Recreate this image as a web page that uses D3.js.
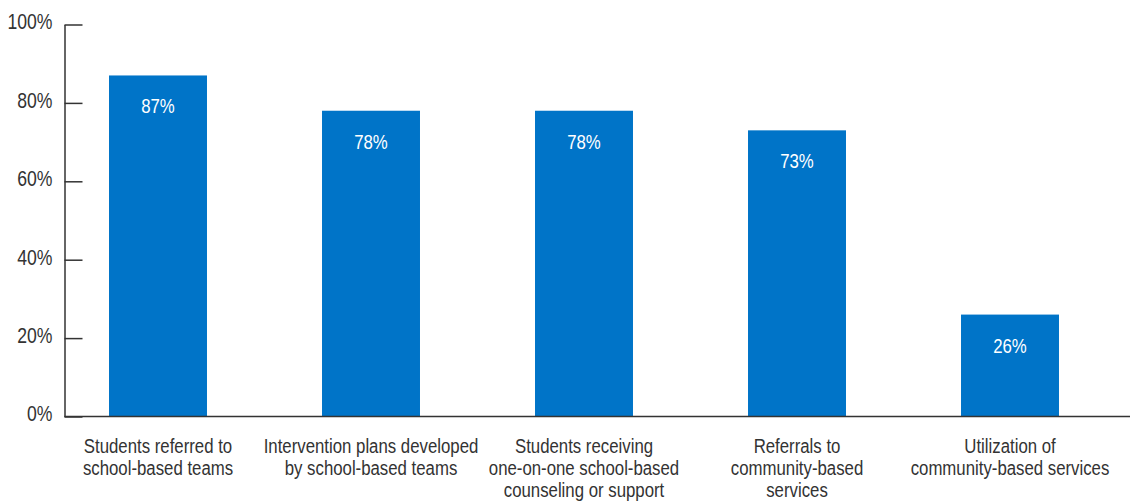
<!DOCTYPE html>
<html>
<head>
<meta charset="utf-8">
<script src="https://cdn.jsdelivr.net/npm/d3@7"></script>
<style>
  html, body { margin: 0; padding: 0; background: #fff; }
  svg { display: block; }
  text { font-family: "Liberation Sans", Arial, sans-serif; }
</style>
</head>
<body>
<svg id="chart" width="1130" height="502"></svg>
<script>
// Share of cases reaching each stage of the school-based support process
const categories = [
  ["Students referred to", "school-based teams"],
  ["Intervention plans developed", "by school-based teams"],
  ["Students receiving", "one-on-one school-based", "counseling or support"],
  ["Referrals to", "community-based", "services"],
  ["Utilization of", "community-based services"]
];
const values = [87, 78, 78, 73, 26];
const yTicks = [0, 20, 40, 60, 80, 100];

const svg = d3.select("#chart");
const axisX = 64.5;
const y0 = 416.5, y1 = 24.5;
const textColor = "#333";
const barColor = "#0074c8";
const fontSize = "21px";
const squeeze = 0.8;   // horizontal compression for a condensed look

const x = d3.scaleBand()
  .domain(d3.range(categories.length))
  .range([51.5, 1116.5])
  .paddingInner(0.54)
  .paddingOuter(0.27);

const y = d3.scaleLinear().domain([0, 100]).range([y0, y1]);

// bars
svg.append("g").selectAll("rect")
  .data(values)
  .join("rect")
  .attr("x", (d, i) => x(i))
  .attr("y", d => y(d))
  .attr("width", x.bandwidth())
  .attr("height", d => y0 - y(d))
  .attr("fill", barColor);

// value labels inside the top of each bar
svg.append("g").selectAll("text")
  .data(values)
  .join("text")
  .attr("transform", (d, i) => `translate(${x(i) + x.bandwidth() / 2},${y(d) + 38}) scale(${squeeze},1)`)
  .attr("text-anchor", "middle")
  .attr("fill", "#fff")
  .style("font-size", fontSize)
  .text(d => d + "%");

// y axis with inward ticks
const yAxis = d3.axisLeft(y)
  .tickValues(yTicks)
  .tickFormat(d => d + "%")
  .tickSizeInner(-18)
  .tickSizeOuter(0)
  .tickPadding(12);

const gy = svg.append("g")
  .attr("transform", `translate(${axisX},0)`)
  .call(yAxis);
gy.select(".domain").attr("stroke", textColor).attr("stroke-width", 1.5);
gy.selectAll(".tick line").attr("stroke", textColor).attr("stroke-width", 1.5);
gy.selectAll(".tick text")
  .attr("x", -12 / squeeze)
  .attr("dy", "4.3px")
  .attr("transform", `scale(${squeeze},1)`)
  .attr("fill", textColor)
  .style("font-size", "22px")
  .style("font-family", "'Liberation Sans', Arial, sans-serif");

// baseline
svg.append("line")
  .attr("x1", axisX).attr("x2", 1130)
  .attr("y1", y0).attr("y2", y0)
  .attr("stroke", textColor)
  .attr("stroke-width", 1.5);

// category labels
const cat = svg.append("g").selectAll("text")
  .data(categories)
  .join("text")
  .attr("transform", (d, i) => `translate(${x(i) + x.bandwidth() / 2},452.5) scale(${squeeze},1)`)
  .attr("text-anchor", "middle")
  .attr("fill", textColor)
  .style("font-size", fontSize);
cat.selectAll("tspan")
  .data(d => d)
  .join("tspan")
  .attr("x", 0)
  .attr("dy", (d, i) => i === 0 ? 0 : 22.5)
  .text(d => d);
</script>
</body>
</html>
